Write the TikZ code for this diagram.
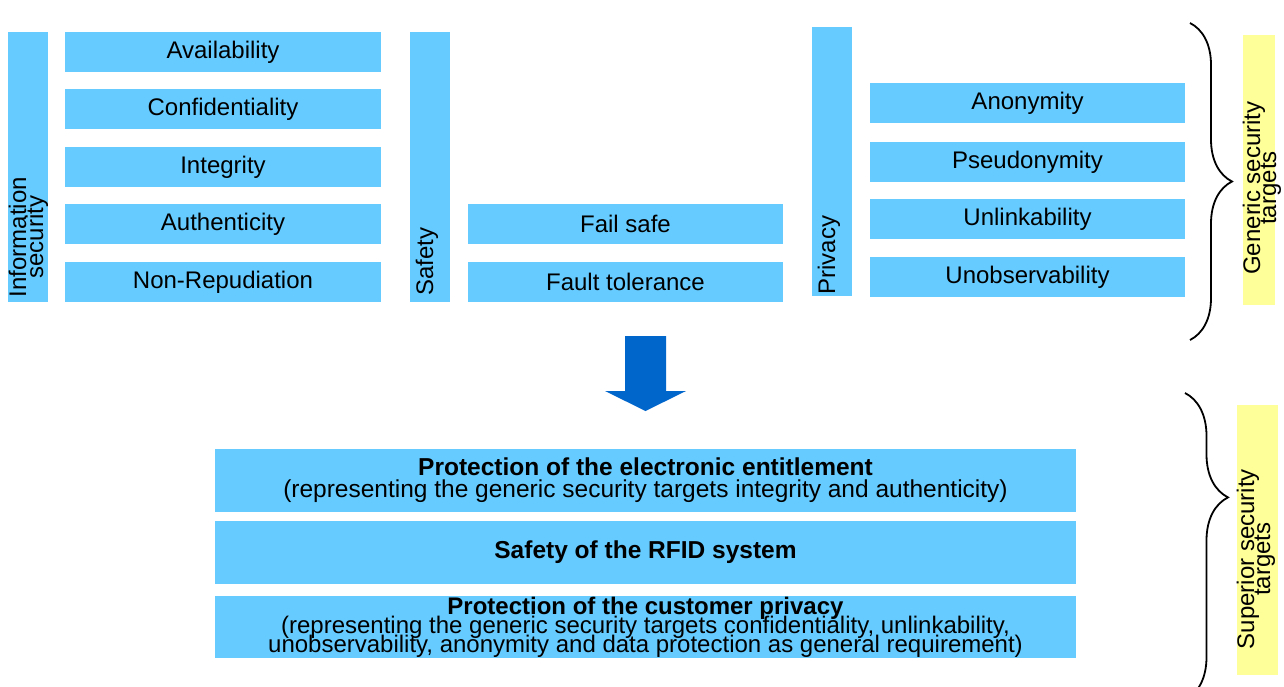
\documentclass[tikz,border=0pt]{standalone}
\usepackage{fontspec}
\setmainfont{Liberation Sans}
\usetikzlibrary{decorations.pathreplacing}
\definecolor{boxblue}{HTML}{66CCFF}
\definecolor{arrowblue}{HTML}{0066CC}
\definecolor{tagyellow}{HTML}{FFFF99}
% lines may overlap, as in the slide
\newcommand{\tightlead}{\lineskiplimit=-100pt\lineskip=0pt}
\tikzset{
  item/.style={fill=boxblue, minimum width=316pt, minimum height=40pt, inner sep=0pt, font=\fontsize{24}{18}\selectfont},
  pillar/.style={fill=boxblue, minimum width=40pt, minimum height=270pt, inner sep=0pt},
  vlabel/.style={rotate=90, align=center, inner sep=0pt, font=\fontsize{24}{17}\selectfont\tightlead},
  target/.style={fill=boxblue, minimum width=861pt, minimum height=63pt, inner sep=0pt, align=center, font=\fontsize{24.5}{22}\selectfont\tightlead},
  tagbox/.style={fill=tagyellow, minimum width=32pt, minimum height=270pt, inner sep=0pt},
  tagtext/.style={rotate=90, align=center, inner sep=0pt, font=\fontsize{24}{16}\selectfont\tightlead},
  bracket/.style={decorate, line width=1.8pt},
}
\begin{document}
\begin{tikzpicture}[x=1pt, y=-1pt]
    \path[use as bounding box, fill=white] (0,0) rectangle (1284,686);

    % Information security: pillar and its five targets
    \node[pillar] (infosec) at (28,167) {};
    \node[vlabel] (infosectxt) at (28.5,237) {Information\\security};
    \node[item] (avail) at (223,52) {Availability};
    \node[item] (confid) at (223,109) {Confidentiality};
    \node[item] (integ) at (223,167) {Integrity};
    \node[item] (authen) at (223,224) {Authenticity};
    \node[item] (nonrep) at (223,282) {Non-Repudiation};

    % Safety: pillar and two targets
    \node[pillar] (safety) at (430,167) {};
    \node[vlabel] (safetytxt) at (427,261.5) {Safety};
    \node[item, minimum width=315pt] (failsafe) at (625.5,224) {Fail safe};
    \node[item, minimum width=315pt] (faulttol) at (625.5,282) {Fault tolerance};

    % Privacy: pillar and four targets
    \node[pillar, minimum height=269pt] (privacy) at (832,161.5) {};
    \node[vlabel] (privacytxt) at (829,255) {Privacy};
    \node[item, minimum width=315pt] (anon) at (1027.5,103) {Anonymity};
    \node[item, minimum width=315pt] (pseudo) at (1027.5,162) {Pseudonymity};
    \node[item, minimum width=315pt] (unlink) at (1027.5,219) {Unlinkability};
    \node[item, minimum width=315pt] (unobs) at (1027.5,277) {Unobservability};

    % Generic targets: brace and tag
    \draw[bracket, decoration={brace, amplitude=42pt}] (1190,23) -- (1190,340);
    \node[tagbox] (generic) at (1259,170) {};
    \node[tagtext] (generictxt) at (1262,188) {Generic security\\targets};

    % Block arrow down
    \fill[arrowblue] (625,336) -- (666,336) -- (666,391) -- (686,391)
        -- (645.5,411) -- (605,391) -- (625,391) -- cycle;

    % Superior targets
    \node[target] (entitle) at (645.5,480.5) {\textbf{Protection of the electronic entitlement}\\(representing the generic security targets integrity and authenticity)};
    \node[target] (rfidsafe) at (645.5,552.5) {\textbf{Safety of the RFID system}};
    \node[target, minimum height=62pt, font=\fontsize{24}{19}\selectfont\tightlead] (custpriv) at (645.5,627) {\textbf{Protection of the customer privacy}\\(representing the generic security targets confidentiality, unlinkability,\\unobservability, anonymity and data protection as general requirement)};

    % Superior targets: brace and tag
    \draw[bracket, decoration={brace, amplitude=43pt, aspect=0.34}] (1185,393) -- (1185,700);
    \node[tagbox, minimum width=41pt] (superior) at (1257.5,540) {};
    \node[tagtext] (superiortxt) at (1256,559) {Superior security\\targets};
\end{tikzpicture}
\end{document}
